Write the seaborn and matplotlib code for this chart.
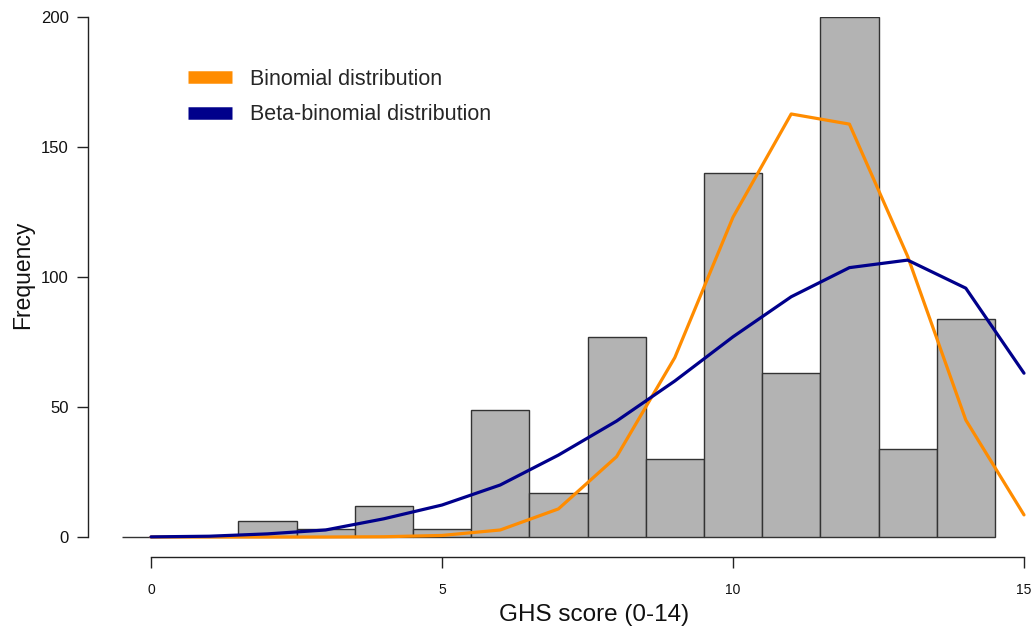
import numpy as np
import pandas as pd
import seaborn as sns
import matplotlib
matplotlib.use("Agg")
import matplotlib.pyplot as plt
from matplotlib.lines import Line2D

# ---- data ----
scores = list(range(0, 15))
counts = [0, 0, 6, 3, 12, 3, 49, 17, 77, 30, 140, 63, 200, 34, 84]

fit_x = list(range(0, 16))
binomial = [0, 0, 0, 0, 0.1, 0.6, 2.7, 10.8, 30.9, 69, 123, 162.7, 158.8, 108, 45, 8.5]
beta_binomial = [0.05, 0.3, 1.2, 2.7, 7, 12.3, 20, 31.5, 44.6, 60, 77, 92.4, 103.6, 106.5, 95.7, 63]

series_labels = ["Binomial distribution", "Beta-binomial distribution"]
x_ticks = [0, 5, 10, 15]
y_ticks = [0, 50, 100, 150, 200]
x_label = "GHS score (0-14)"
y_label = "Frequency"

# ---- styling ----
sns.set_style("ticks")
plt.rcParams["font.family"] = ["Liberation Sans", "DejaVu Sans"]

W, H = 1035, 635
fig = plt.figure(figsize=(W / 100, H / 100), dpi=100)
# axes in pixel geometry
ax_l, ax_r, ax_t, ax_b = 88, 1030, 17, 557
ax_w, ax_h = ax_r - ax_l, ax_b - ax_t
ax = fig.add_axes([ax_l / W, (H - ax_b) / H, ax_w / W, ax_h / H])

df = pd.DataFrame({"score": scores, "count": counts})
sns.histplot(data=df, x="score", weights="count", discrete=True,
             color="#b3b3b3", edgecolor="#333333", linewidth=1.0, alpha=1.0, ax=ax)

orange = "#FF8C00"
navy = "#00008B"
sns.lineplot(x=fit_x, y=binomial, color=orange, linewidth=2.3, ax=ax)
sns.lineplot(x=fit_x, y=beta_binomial, color=navy, linewidth=2.3, ax=ax)

# axis limits mapped to reference pixels: x 0->151px, 15->1024px; y 0->537px, 200->17px
px_per_x = (1024 - 151) / 15
px_per_y = (537 - 17) / 200
ax.set_xlim(-(151 - ax_l) / px_per_x, 15 + (ax_r - 1024) / px_per_x)
ax.set_ylim(-(ax_b - 537) / px_per_y, 200)

for s in ["top", "right"]:
    ax.spines[s].set_visible(False)
ax.spines["left"].set_bounds(0, 200)
ax.spines["bottom"].set_bounds(0, 15)
for s in ["left", "bottom"]:
    ax.spines[s].set_color("#222222")
    ax.spines[s].set_linewidth(1.0)

ax.set_xticks(x_ticks)
ax.set_yticks(y_ticks)
ax.tick_params(axis="both", which="major", bottom=True, left=True, direction="out",
               length=8, width=1.0, color="#222222", labelcolor="#111111")
ax.tick_params(axis="y", labelsize=12, pad=6)
ax.tick_params(axis="x", labelsize=10, pad=11)
ax.set_xlabel(x_label, fontsize=17.5, color="#111111")
ax.set_ylabel(y_label, fontsize=16.5, color="#111111")
ax.xaxis.set_label_coords((594 - ax_l) / ax_w, (ax_b - 604) / ax_h)
ax.yaxis.set_label_coords((34 - ax_l) / ax_w, (ax_b - 275) / ax_h)

handles = [Line2D([0], [0], color=orange, linewidth=9, solid_capstyle="butt"),
           Line2D([0], [0], color=navy, linewidth=9, solid_capstyle="butt")]
ax.legend(handles, series_labels, loc="upper left",
          bbox_to_anchor=((188 - ax_l) / ax_w, 1 - (69 - ax_t) / ax_h),
          frameon=False, fontsize=15.5, handlelength=2.05, handletextpad=0.84,
          labelspacing=0.66, borderpad=0, borderaxespad=0)

fig.savefig("out.png", dpi=100)
